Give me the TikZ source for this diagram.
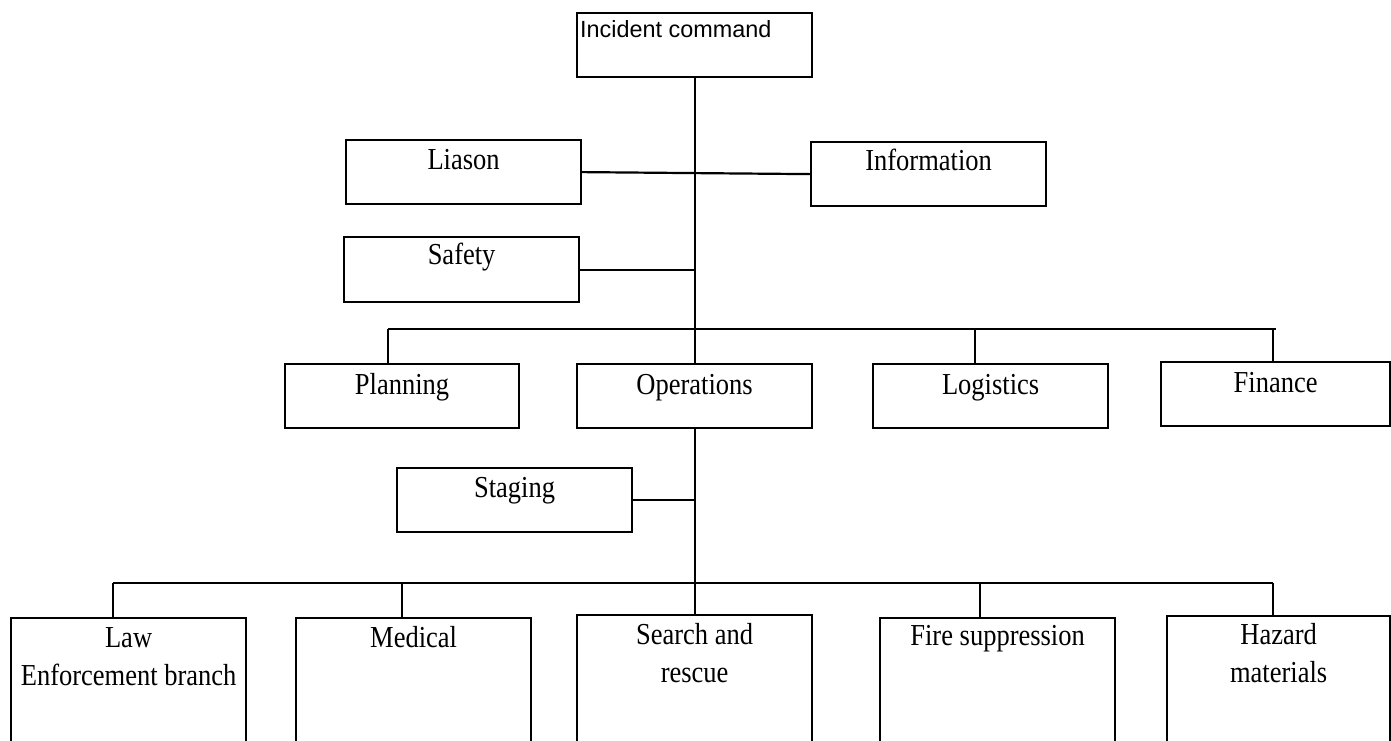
\documentclass[tikz,border=0pt]{standalone}
\usepackage{fontspec}
\setmainfont{Liberation Serif}
\newfontfamily\arialfont{Liberation Sans}
\usepackage{graphicx}
% serif labels are set slightly taller than their natural shape
\newcommand\tallt[1]{\scalebox{1}[1.15]{#1}}
\tikzset{
  unit/.style={draw, line width=2.2pt, inner sep=0pt, anchor=north west,
               minimum width=235pt, minimum height=64pt},
  unittext/.style={font=\fontsize{26.5}{38}\selectfont, inner sep=0pt,
                   anchor=base, align=center},
  link/.style={line width=2.2pt},
}
\begin{document}
\begin{tikzpicture}[x=1pt,y=-1pt]
\useasboundingbox (0,0) rectangle (1391,740);
\clip (0,0) rectangle (1391,740);

% command level
\node[unit] (ic) at (576,12) {};
\node[font=\arialfont\fontsize{23.4}{28}\selectfont, inner sep=0pt,
      anchor=base west] (ict) at (580,37) {Incident command};

% command staff
\node[unit] (liason) at (345,139) {};
\node[unittext] (liasont) at (liason.north |- 0,169) {\tallt{Liason}};
\node[unit] (info) at (810,141) {};
\node[unittext] (infot) at (info.north |- 0,170) {\tallt{Information}};
\node[unit, minimum height=65pt] (safety) at (343,236) {};
\node[unittext] (safetyt) at (safety.north |- 0,264) {\tallt{Safety}};

% general staff sections
\node[unit, minimum width=234pt] (planning) at (284,363) {};
\node[unittext] (planningt) at (planning.north |- 0,394) {\tallt{Planning}};
\node[unit] (ops) at (576,363) {};
\node[unittext] (opst) at (ops.north |- 0,394) {\tallt{Operations}};
\node[unit] (logistics) at (872,363) {};
\node[unittext] (logisticst) at (logistics.north |- 0,394) {\tallt{Logistics}};
\node[unit, minimum width=229pt] (finance) at (1160,361) {};
\node[unittext] (financet) at (finance.north |- 0,392) {\tallt{Finance}};

% staging area
\node[unit] (staging) at (396,467) {};
\node[unittext] (stagingt) at (staging.north |- 0,497) {\tallt{Staging}};

% operations branches (running off the lower edge); two-line labels sit on their last baseline
\node[unit, minimum height=143pt] (law) at (10,617) {};
\node[unittext] (lawt) at (law.north |- 0,685) {\tallt{Law}\\\tallt{Enforcement branch}};
\node[unit, minimum height=143pt] (medical) at (295,617) {};
\node[unittext] (medicalt) at (medical.north |- 0,647) {\tallt{Medical}};
\node[unit, minimum height=146pt] (search) at (576,614) {};
\node[unittext] (searcht) at (search.north |- 0,682) {\tallt{Search and}\\\tallt{rescue}};
\node[unit, minimum height=143pt] (fire) at (879,617) {};
\node[unittext] (firet) at (fire.north |- 0,645) {\tallt{Fire suppression}};
\node[unit, minimum width=223pt, minimum height=145pt] (hazard) at (1166,615) {};
\node[unittext] (hazardt) at (hazard.north |- 0,682) {\tallt{Hazard}\\\tallt{materials}};

% main trunk and staff links
\draw[link] (ic.south) -- (ops.north);
\draw[link] (liason.east) -- (info.west);
\draw[link] (safety.east) -- (safety.east -| ops.north);

% section bar
\coordinate (barAl) at (388,329);
\coordinate (barAr) at (1276,329);
\coordinate (barAg) at (975,329);
\coordinate (barAf) at (1273,329);
\draw[link] (barAl) -- (barAr);
\draw[link] (barAl) -- (barAl |- planning.north);
\draw[link] (barAg) -- (barAg |- logistics.north);
\draw[link] (barAf) -- (barAf |- finance.north);

% operations trunk and staging
\coordinate (barBo) at (ops.south |- 0,583);
\draw[link] (ops.south) -- (barBo);
\draw[link] (staging.east) -- (staging.east -| ops.south);

% branch bar
\coordinate (barBl) at (113,583);
\coordinate (barBm) at (402,583);
\coordinate (barBf) at (980,583);
\coordinate (barBr) at (1273,583);
\draw[link] (barBl) -- (barBr);
\draw[link] (barBl) -- (barBl |- law.north);
\draw[link] (barBm) -- (barBm |- medical.north);
\draw[link] (barBo) -- (search.north);
\draw[link] (barBf) -- (barBf |- fire.north);
\draw[link] (barBr) -- (barBr |- hazard.north);
\end{tikzpicture}
\end{document}
